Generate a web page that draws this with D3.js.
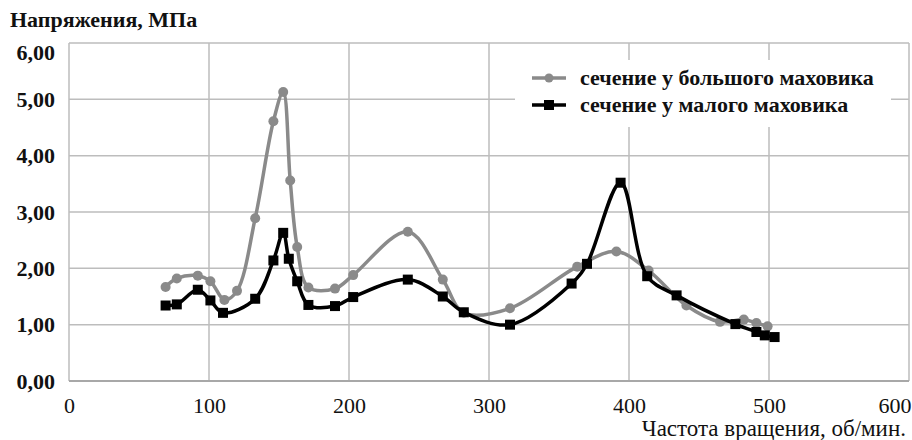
<!DOCTYPE html>
<html>
<head>
<meta charset="utf-8">
<script src="https://cdn.jsdelivr.net/npm/d3@7"></script>
<style>
  body { margin: 0; background: #fff; }
</style>
</head>
<body>
<div id="chart"></div>
<script>
// chart size and plot area
const width = 912;
const height = 440;
const margin = {left: 69, right: 3, top: 43, bottom: 59};
const serif = "'Liberation Serif', 'Times New Roman', Tinos, 'DejaVu Serif', serif";

// data
const xBig = [69, 77, 92, 101, 111, 120, 133, 146, 153, 158, 163, 171, 190, 203, 242, 267, 282, 315, 363, 391, 414, 441, 465, 482, 491, 499];
const yBig = [1.67, 1.82, 1.87, 1.77, 1.44, 1.60, 2.89, 4.61, 5.13, 3.56, 2.38, 1.66, 1.64, 1.88, 2.65, 1.80, 1.21, 1.29, 2.03, 2.30, 1.96, 1.34, 1.05, 1.09, 1.03, 0.97];
const xSmall = [69, 77, 92, 101, 110, 133, 146, 153, 157, 163, 171, 190, 203, 242, 267, 282, 315, 359, 370, 394, 413, 434, 476, 491, 497, 504];
const ySmall = [1.34, 1.36, 1.62, 1.43, 1.21, 1.46, 2.14, 2.63, 2.17, 1.77, 1.35, 1.33, 1.49, 1.80, 1.50, 1.22, 1.00, 1.73, 2.08, 3.52, 1.86, 1.52, 1.01, 0.87, 0.81, 0.78];
const seriesNames = ["сечение у большого маховика", "сечение у малого маховика"];
const xTicks = [0, 100, 200, 300, 400, 500, 600];
const yTicks = [0, 1, 2, 3, 4, 5, 6];

const svg = d3.select("#chart")
  .append("svg")
  .attr("width", width)
  .attr("height", height)
  .style("font-family", serif);

const x = d3.scaleLinear()
  .domain([0, 600])
  .range([margin.left, width - margin.right]);
const y = d3.scaleLinear()
  .domain([0, 6])
  .range([height - margin.bottom, margin.top]);

// grid
svg.append("g")
  .selectAll("line")
  .data(xTicks)
  .enter()
  .append("line")
  .attr("x1", d => x(d)).attr("x2", d => x(d))
  .attr("y1", y(6)).attr("y2", y(0))
  .attr("stroke", "#bdbdbd")
  .attr("stroke-width", 1.5);

svg.append("g")
  .selectAll("line")
  .data(yTicks)
  .enter()
  .append("line")
  .attr("x1", x(0)).attr("x2", x(600))
  .attr("y1", d => y(d)).attr("y2", d => y(d))
  .attr("stroke", d => d === 0 ? "#a8a8a8" : "#bdbdbd")
  .attr("stroke-width", d => d === 0 ? 2 : 1.5);

// axis labels
const yAxis = svg.append("g")
  .attr("transform", `translate(${x(0) - 11},0)`)
  .call(d3.axisLeft(y).tickValues(yTicks).tickSize(0).tickFormat(d => d3.format(".2f")(d).replace(".", ",")));
yAxis.select(".domain").remove();
yAxis.selectAll("text")
  .style("font-family", serif)
  .attr("fill", "#111")
  .attr("font-size", "22px")
  .attr("font-weight", "bold")
  .attr("dy", d => d === 6 ? "0.75em" : "0.32em");

const xAxis = svg.append("g")
  .attr("transform", `translate(0,${y(0) + 13})`)
  .call(d3.axisBottom(x).tickValues(xTicks).tickSize(0));
xAxis.select(".domain").remove();
xAxis.selectAll("text")
  .style("font-family", serif)
  .attr("fill", "#111")
  .attr("font-size", "22px")
  .attr("text-anchor", d => d === 600 ? "end" : "middle")
  .attr("x", d => d === 600 ? 2 : 0);

svg.append("text")
  .attr("x", 10)
  .attr("y", 27)
  .style("font-family", serif)
  .attr("fill", "#111")
  .attr("font-size", "22px")
  .attr("font-weight", "bold")
  .text("Напряжения, МПа");

svg.append("text")
  .attr("x", 906)
  .attr("y", 436)
  .attr("text-anchor", "end")
  .style("font-family", serif)
  .attr("fill", "#111")
  .attr("font-size", "23px")
  .text("Частота вращения, об/мин.");

// lines
const line = d3.line()
  .x(d => x(d[0]))
  .y(d => y(d[1]))
  .curve(d3.curveCatmullRom.alpha(0.5));

const big = xBig.map((d, i) => [d, yBig[i]]);
const small = xSmall.map((d, i) => [d, ySmall[i]]);

svg.append("path")
  .datum(big)
  .attr("fill", "none")
  .attr("stroke", "#8a8a8a")
  .attr("stroke-width", 3.5)
  .attr("d", line);

svg.selectAll(".dot")
  .data(big)
  .enter()
  .append("circle")
  .attr("class", "dot")
  .attr("cx", d => x(d[0]))
  .attr("cy", d => y(d[1]))
  .attr("r", 5)
  .attr("fill", "#8a8a8a");

svg.append("path")
  .datum(small)
  .attr("fill", "none")
  .attr("stroke", "#000")
  .attr("stroke-width", 3.5)
  .attr("d", line);

svg.selectAll(".sq")
  .data(small)
  .enter()
  .append("rect")
  .attr("class", "sq")
  .attr("x", d => x(d[0]) - 5)
  .attr("y", d => y(d[1]) - 5)
  .attr("width", 10)
  .attr("height", 10)
  .attr("fill", "#000");

// legend
const legend = svg.append("g");
legend.append("rect")
  .attr("x", 515).attr("y", 60)
  .attr("width", 376).attr("height", 67)
  .attr("fill", "#fff");

const legendColors = ["#8a8a8a", "#000"];
seriesNames.forEach((name, i) => {
  const ly = 78 + i * 27;
  legend.append("line")
    .attr("x1", 532).attr("x2", 566)
    .attr("y1", ly).attr("y2", ly)
    .attr("stroke", legendColors[i])
    .attr("stroke-width", 3.5);
  if (i === 0) {
    legend.append("circle").attr("cx", 549).attr("cy", ly).attr("r", 4.5).attr("fill", legendColors[i]);
  } else {
    legend.append("rect").attr("x", 544).attr("y", ly - 5).attr("width", 10).attr("height", 10).attr("fill", legendColors[i]);
  }
  legend.append("text")
    .attr("x", 580)
    .attr("y", ly + 7)
    .style("font-family", serif)
    .attr("fill", "#111")
    .attr("font-size", "22px")
    .attr("font-weight", "bold")
    .text(name);
});
</script>
</body>
</html>
